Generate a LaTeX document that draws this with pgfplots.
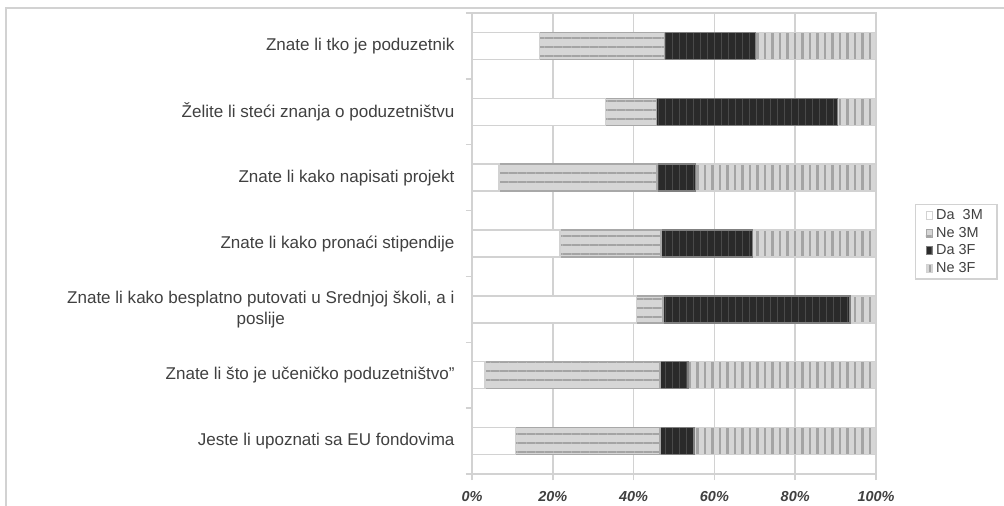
\documentclass[border=0pt]{standalone}
\usepackage{fontspec}
\setmainfont{Liberation Sans}
\usepackage{pgfplots}
\usepackage{pgfplotstable}
\pgfplotsset{compat=1.18}
\usetikzlibrary{patterns.meta}
\definecolor{txt}{HTML}{404040}
\definecolor{gridc}{HTML}{D2D2D2}
\definecolor{edgec}{HTML}{A8A8A8}
\definecolor{lgray}{HTML}{D6D6D6}
\definecolor{stripe}{HTML}{A4A4A4}
\definecolor{dark}{HTML}{2A2A2A}
\definecolor{darkstripe}{HTML}{4A4A4A}
\pgfplotstableread{
y da3m ne3m da3f ne3f
7 16.7 30.9 22.6 29.8
6 33.1 12.6 44.8 9.5
5 6.7 39.1 9.5 44.7
4 21.8 25.0 22.6 30.6
3 40.7 6.6 46.3 6.4
2 3.2 43.3 7.0 46.5
1 10.8 35.7 8.4 45.1
}\datatable
\begin{document}
\begin{tikzpicture}
\useasboundingbox (0,0) rectangle (1004bp,506bp);
\draw[gridc, line width=2.5bp] (6bp,-20bp) rectangle (1030bp,498bp);
\begin{axis}[
  at={(472bp,32bp)}, anchor=south west,
  width=404bp, height=461bp, scale only axis,
  xbar stacked, bar width=0.41,
  xmin=0, xmax=100, ymin=0.5, ymax=7.5,
  axis line style={gridc, line width=1.5bp},
  xmajorgrids, grid style={gridc, line width=1.5bp},
  tick pos=left,
  xtick={0,20,40,60,80,100},
  xticklabels={0\%,20\%,40\%,60\%,80\%,100\%},
  xticklabel style={font=\bfseries\itshape\fontsize{14.5}{16}\selectfont, text=txt, yshift=-8bp},
  tick align=outside, major tick length=6bp,
  x tick style={gridc, line width=1.5bp},
  ytick={0.5,1.5,2.5,3.5,4.5,5.5,6.5,7.5},
  yticklabels={},
  y tick style={gridc, line width=1.5bp},
  extra y ticks={1,2,3,4,5,6,7},
  extra y tick labels={Jeste li upoznati sa EU fondovima,
    Znate li što je učeničko poduzetništvo",
    {Znate li kako besplatno putovati u Srednjoj školi, a i\\poslije},
    Znate li kako pronaći stipendije,
    Znate li kako napisati projekt,
    Želite li steći znanja o poduzetništvu,
    Znate li tko je poduzetnik},
  extra y tick style={y tick style={draw=none},
    yticklabel style={font=\fontsize{17.1}{21}\selectfont, text=txt, align=center, xshift=-8bp}},
  legend style={at={(1.0965,0.5857)}, anchor=north west, draw=gridc, line width=1.5bp,
    font=\fontsize{14.5}{16}\selectfont, text=txt, row sep=2bp,
    inner xsep=10bp, inner ysep=3bp,
    nodes={inner xsep=4bp}},
  legend cell align=left,
  legend image code/.code={\draw[#1,line width=0.5bp] (0bp,-4bp) rectangle (6bp,4bp);},
]
\addplot[fill=white, draw=gridc, line width=1.5bp] table[x=da3m, y=y] {\datatable};
\addplot[fill=lgray, draw=edgec, line width=1.5bp,
  postaction={pattern={Lines[angle=0,distance=9bp,line width=2.5bp]}, pattern color=stripe}]
  table[x=ne3m, y=y] {\datatable};
\addplot[fill=dark, draw=black!50, line width=1.5bp,
  postaction={pattern={Lines[angle=90,distance=7bp,line width=1bp]}, pattern color=darkstripe}]
  table[x=da3f, y=y] {\datatable};
\addplot[fill=lgray, draw=gridc, line width=1.5bp,
  postaction={pattern={Lines[angle=90,distance=7.5bp,line width=2.5bp]}, pattern color=stripe}]
  table[x=ne3f, y=y] {\datatable};
\legend{Da\ \ 3M, Ne 3M, Da 3F, Ne 3F}
\end{axis}
\end{tikzpicture}
\end{document}
